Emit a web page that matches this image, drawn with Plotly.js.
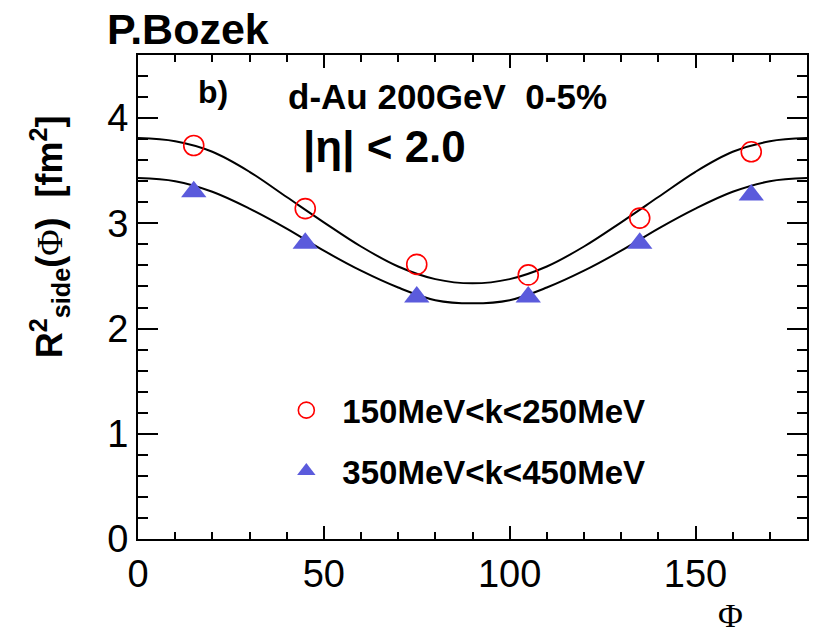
<!DOCTYPE html>
<html>
<head>
<meta charset="utf-8">
<script src="https://cdn.plot.ly/plotly-3.0.1.min.js"></script>
<style>html,body{margin:0;padding:0;background:#fff;}#chart{width:826px;height:642px;}</style>
</head>
<body>
<div id="chart"></div>
<script>
// Data
const phiPoints = [15, 45, 75, 105, 135, 165];
const rLowK = [3.74, 3.14, 2.61, 2.51, 3.05, 3.68];   // 150MeV<k<250MeV
const rHighK = [3.30, 2.81, 2.30, 2.30, 2.81, 3.27];  // 350MeV<k<450MeV

const phiFit = [0, 10, 20, 30, 40, 50, 60, 70, 80, 90, 100, 110, 120, 130, 140, 150, 160, 170, 180];
const fitLowK = [3.81, 3.78, 3.68, 3.49, 3.25, 3.01, 2.78, 2.59, 2.47, 2.43, 2.47, 2.59, 2.78, 3.01, 3.25, 3.49, 3.68, 3.78, 3.81];
const fitHighK = [3.43, 3.40, 3.30, 3.14, 2.95, 2.74, 2.55, 2.39, 2.27, 2.24, 2.27, 2.39, 2.55, 2.74, 2.95, 3.14, 3.30, 3.40, 3.43];

const xTicks = [0, 50, 100, 150];
const yTicks = [0, 1, 2, 3, 4];
const labelLowK = '150MeV<k<250MeV';
const labelHighK = '350MeV<k<450MeV';

const SANS = 'Liberation Sans, Arial, Helvetica, sans-serif';
const SERIF = 'Liberation Serif, Times New Roman, serif';

const traces = [
  {x: phiFit, y: fitLowK, mode: 'lines', line: {color: '#000', width: 2, shape: 'spline'}, showlegend: false, hoverinfo: 'skip'},
  {x: phiFit, y: fitHighK, mode: 'lines', line: {color: '#000', width: 2, shape: 'spline'}, showlegend: false, hoverinfo: 'skip'},
  {x: phiPoints, y: rLowK, mode: 'markers', name: labelLowK, legendgroup: 'a',
   marker: {symbol: 'circle-open', size: 20, color: '#ff0000', line: {color: '#ff0000', width: 1.6}}},
  {x: phiPoints, y: rHighK, mode: 'markers', name: labelHighK, legendgroup: 'b',
   marker: {symbol: 'triangle-up', size: 22, color: '#5b5bdc', line: {width: 0}}}
];

const axisCommon = {
  showline: true, linecolor: '#000', linewidth: 2, mirror: 'allticks',
  ticks: 'inside', tickcolor: '#000', tickwidth: 2,
  showgrid: false, zeroline: false,
  tickfont: {family: SANS, size: 38, color: '#000'}
};

const layout = {
  width: 826, height: 642,
  margin: {l: 138, r: 19, t: 55, b: 103},
  paper_bgcolor: '#fff', plot_bgcolor: '#fff',
  xaxis: Object.assign({}, axisCommon, {
    range: [0, 180], tickvals: xTicks, ticklen: 13,
    minor: {dtick: 10, tick0: 0, ticks: 'inside', ticklen: 7, tickwidth: 2, tickcolor: '#000'}
  }),
  yaxis: Object.assign({}, axisCommon, {
    range: [0, 4.6], tickvals: yTicks, ticklen: 20,
    minor: {dtick: 0.2, tick0: 0, ticks: 'inside', ticklen: 10, tickwidth: 2, tickcolor: '#000'}
  }),
  showlegend: true,
  legend: {
    x: 0.1978, y: 0.324, xanchor: 'left', yanchor: 'top',
    bgcolor: 'rgba(0,0,0,0)', borderwidth: 0,
    itemwidth: 62, tracegroupgap: 15,
    font: {family: SANS, size: 33, color: '#000', weight: 'bold'}
  },
  annotations: [
    {text: '<b>P.Bozek</b>', xref: 'paper', yref: 'paper', x: -0.0486, y: 1.0537, xanchor: 'left', yanchor: 'middle',
     showarrow: false, font: {family: SANS, size: 43, color: '#000'}},
    {text: '<b>b)</b>', xref: 'paper', yref: 'paper', x: 0.0868, y: 0.9236, xanchor: 'left', yanchor: 'middle',
     showarrow: false, font: {family: SANS, size: 32, color: '#000'}},
    {text: '<b>d-Au 200GeV  0-5%</b>', xref: 'paper', yref: 'paper', x: 0.2217, y: 0.915, xanchor: 'left', yanchor: 'middle',
     showarrow: false, font: {family: SANS, size: 35, color: '#000'}},
    {text: '<b>|η| < 2.0</b>', xref: 'paper', yref: 'paper', x: 0.244, y: 0.809, xanchor: 'left', yanchor: 'middle',
     showarrow: false, font: {family: SANS, size: 44, color: '#000'}},
    {text: '<b>R<sup>2</sup><sub>side</sub>(</b><span style="font-family:Liberation Serif">Φ</span><b>)  [fm<sup>2</sup>]</b>',
     xref: 'paper', yref: 'paper', x: -0.132, y: 0.625, xanchor: 'center', yanchor: 'middle', textangle: -90,
     showarrow: false, font: {family: SANS, size: 36, color: '#000'}},
    {text: 'Φ', xref: 'paper', yref: 'paper', x: 0.885, y: -0.158, xanchor: 'center', yanchor: 'middle',
     showarrow: false, font: {family: SERIF, size: 34, color: '#000'}}
  ]
};

Plotly.newPlot('chart', traces, layout, {staticPlot: true, displayModeBar: false});
</script>
</body>
</html>
